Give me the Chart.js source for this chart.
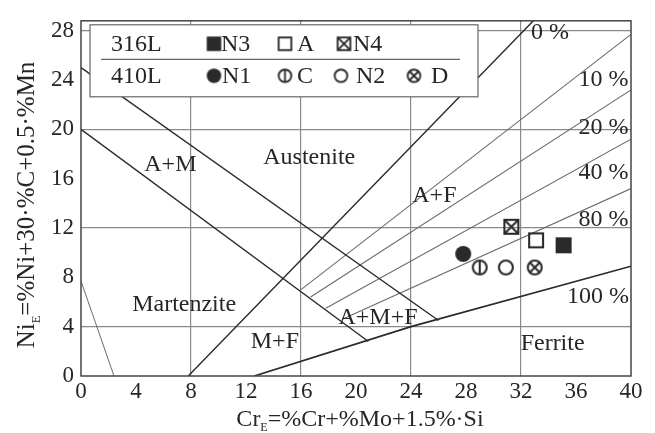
<!DOCTYPE html>
<html>
<head>
<meta charset="utf-8">
<title>Schaeffler diagram – 316L / 410L deposits</title>
<script src="https://cdn.jsdelivr.net/npm/chart.js@4.4.1/dist/chart.umd.min.js"></script>
<style>
  html, body { margin: 0; padding: 0; background: #fff; }
  #wrap { width: 655px; height: 433px; }
</style>
</head>
<body>
<div id="wrap"><canvas id="chart" width="655" height="433"></canvas></div>
<script>
const FONT = '"Liberation Serif", "Times New Roman", Times, serif';
const INK = '#262626';

// Phase boundaries of the Schaeffler diagram, [CrE, NiE] vertices
const martensiteEdge = [[0, 7.7], [2.4, 0]];
const amLowerEdge    = [[0, 20], [20.9, 2.8]];
const amUpperEdge    = [[0, 25], [26.0, 4.5]];
const ferrite0   = [[7.8, 0], [32.9, 28.8]];
const ferrite10  = [[16.0, 7.0], [40, 27.7]];
const ferrite20  = [[16.7, 6.4], [40, 23.2]];
const ferrite40  = [[17.8, 5.5], [40, 19.2]];
const ferrite80  = [[19.0, 4.6], [40, 15.2]];
const ferrite100 = [[12.6, 0], [24, 4.0], [40, 8.9]];

// Measured deposits
const steels = ['316L', '410L'];
const names316 = ['N3', 'A', 'N4'];
const crE316   = [35.1, 33.1, 31.3];
const niE316   = [10.6, 11.0, 12.1];
const names410 = ['N1', 'C', 'N2', 'D'];
const crE410   = [27.8, 29.0, 30.9, 33.0];
const niE410   = [9.9, 8.8, 8.8, 8.8];

// Axis ticks
const xTicks = [0, 4, 8, 12, 16, 20, 24, 28, 32, 36, 40];
const yTicks = [0, 4, 8, 12, 16, 20, 24, 28];
const xGridValues = [8, 16, 24, 32];
const yGridValues = [4, 12, 20, 28];

// Region names and iso-ferrite labels, anchored in diagram coordinates
const regionNames = ['A+M', 'Austenite', 'A+F', 'Martenzite', 'M+F', 'A+M+F', 'Ferrite'];
const regionCr    = [6.5, 16.6, 25.7, 7.5, 14.1, 21.6, 34.3];
const regionNi    = [17.1, 17.7, 14.6, 5.8, 2.75, 4.7, 2.65];
const ferriteNames = ['0 %', '10 %', '20 %', '40 %', '80 %', '100 %'];
const ferriteCr    = [34.1, 38.0, 38.0, 38.0, 38.0, 37.6];
const ferriteNi    = [27.85, 24.05, 20.1, 16.5, 12.7, 6.4];

// Marker glyph for every sample
const symbolKind = {
  N3: 'filledSquare', A: 'openSquare', N4: 'crossSquare',
  N1: 'filledCircle', C: 'barCircle', N2: 'openCircle', D: 'crossCircle'
};

function makeSymbol(kind, outer) {
  const s = Math.ceil(outer) + 4;
  const cv = document.createElement('canvas');
  cv.width = s; cv.height = s;
  const g = cv.getContext('2d');
  const c = s / 2;
  const lw = outer * 0.13;
  g.strokeStyle = '#2a2a2a';
  g.fillStyle = '#2a2a2a';
  g.lineWidth = lw;
  const h = outer / 2;
  if (kind.endsWith('Square')) {
    if (kind === 'filledSquare') {
      g.fillRect(c - h, c - h, outer, outer);
    } else {
      const k = h - lw / 2;
      g.strokeRect(c - k, c - k, 2 * k, 2 * k);
      if (kind === 'crossSquare') {
        g.beginPath();
        g.moveTo(c - k, c - k); g.lineTo(c + k, c + k);
        g.moveTo(c + k, c - k); g.lineTo(c - k, c + k);
        g.stroke();
      }
    }
  } else {
    const r = h - lw / 2;
    g.beginPath();
    g.arc(c, c, kind === 'filledCircle' ? h : r, 0, Math.PI * 2);
    if (kind === 'filledCircle') g.fill(); else g.stroke();
    if (kind === 'barCircle') {
      g.beginPath(); g.moveTo(c, c - r); g.lineTo(c, c + r); g.stroke();
    }
    if (kind === 'crossCircle') {
      const d = r * 0.68;
      g.beginPath();
      g.moveTo(c - d, c - d); g.lineTo(c + d, c + d);
      g.moveTo(c + d, c - d); g.lineTo(c - d, c + d);
      g.stroke();
    }
  }
  return cv;
}

const plotSymbols = {}, legendSymbols = {};
Object.keys(symbolKind).forEach(n => {
  plotSymbols[n] = makeSymbol(symbolKind[n], 16);
  legendSymbols[n] = makeSymbol(symbolKind[n], 14.5);
});

const toPts = arr => arr.map(([x, y]) => ({ x, y }));
function boundary(label, pts, color, width) {
  return {
    label, data: toPts(pts), showLine: true, borderColor: color, borderWidth: width,
    pointRadius: 0, pointHoverRadius: 0, fill: false, tension: 0, order: 2
  };
}
function sample(name, x, y) {
  return {
    label: name, data: [{ x, y }], showLine: false,
    pointStyle: plotSymbols[name], pointRadius: 8, pointHoverRadius: 8, order: 1
  };
}

const DARK = '#2a2a2a', THIN = '#6a6a6a';
const datasets = [
  boundary('M edge', martensiteEdge, THIN, 1),
  boundary('A+M lower', amLowerEdge, DARK, 1.4),
  boundary('A+M upper', amUpperEdge, DARK, 1.4),
  boundary('0 %', ferrite0, DARK, 1.4),
  boundary('10 %', ferrite10, THIN, 1.1),
  boundary('20 %', ferrite20, THIN, 1.1),
  boundary('40 %', ferrite40, THIN, 1.1),
  boundary('80 %', ferrite80, THIN, 1.1),
  boundary('100 %', ferrite100, DARK, 1.7),
];
names316.forEach((n, i) => datasets.push(sample(n, crE316[i], niE316[i])));
names410.forEach((n, i) => datasets.push(sample(n, crE410[i], niE410[i])));

// Text with a subscript run, centred on (cx, cy)
function subTextWidth(ctx, parts, size) {
  let w = 0;
  parts.forEach(p => {
    ctx.font = (p.sub ? size * 0.5 : size) + 'px ' + FONT;
    w += ctx.measureText(p.t).width;
  });
  return w;
}
function drawSubText(ctx, parts, cx, cy, size) {
  const w = subTextWidth(ctx, parts, size);
  let x = cx - w / 2;
  ctx.textBaseline = 'alphabetic';
  ctx.textAlign = 'left';
  const base = cy + size * 0.33;
  parts.forEach(p => {
    ctx.font = (p.sub ? size * 0.5 : size) + 'px ' + FONT;
    ctx.fillText(p.t, x, p.sub ? base + size * 0.22 : base);
    x += ctx.measureText(p.t).width;
  });
}

const diagramDecor = {
  id: 'diagramDecor',
  afterDatasetsDraw(chart) {
    const { ctx, chartArea: a, scales: { x, y } } = chart;
    ctx.save();
    // plot frame
    ctx.strokeStyle = '#444';
    ctx.lineWidth = 1.5;
    ctx.strokeRect(a.left, a.top, a.right - a.left, a.bottom - a.top);

    // region and iso-ferrite labels
    ctx.fillStyle = INK;
    ctx.font = '24px ' + FONT;
    ctx.textAlign = 'center';
    ctx.textBaseline = 'middle';
    regionNames.forEach((t, i) => ctx.fillText(t, x.getPixelForValue(regionCr[i]), y.getPixelForValue(regionNi[i])));
    ferriteNames.forEach((t, i) => ctx.fillText(t, x.getPixelForValue(ferriteCr[i]), y.getPixelForValue(ferriteNi[i])));

    // grouped legend
    const bx = a.left + 9, by = a.top + 4, bw = 388, bh = 72;
    ctx.fillStyle = '#fff';
    ctx.fillRect(bx, by, bw, bh);
    ctx.strokeStyle = '#666';
    ctx.lineWidth = 1.2;
    ctx.strokeRect(bx, by, bw, bh);
    ctx.beginPath();
    ctx.moveTo(bx + 11, by + 34.5);
    ctx.lineTo(bx + 370, by + 34.5);
    ctx.stroke();

    const rows = [
      { steel: steels[0], names: names316, cy: by + 19, marks: [124, 195, 254], texts: [131, 207, 263] },
      { steel: steels[1], names: names410, cy: by + 51, marks: [124, 195, 251, 324], texts: [132, 207, 266, 341] },
    ];
    ctx.fillStyle = INK;
    ctx.font = '24px ' + FONT;
    ctx.textBaseline = 'middle';
    ctx.textAlign = 'left';
    rows.forEach(r => {
      ctx.fillText(r.steel, bx + 21, r.cy + 1);
      r.names.forEach((n, i) => {
        const img = legendSymbols[n];
        ctx.drawImage(img, bx + r.marks[i] - img.width / 2, r.cy - img.height / 2);
        ctx.fillText(n, bx + r.texts[i], r.cy + 1);
      });
    });

    // axis titles
    drawSubText(ctx, [{ t: 'Cr' }, { t: 'E', sub: true }, { t: '=%Cr+%Mo+1.5%\u00B7Si' }],
      (a.left + a.right) / 2 + 4, 418, 24);
    ctx.translate(26, 205);
    ctx.rotate(-Math.PI / 2);
    drawSubText(ctx, [{ t: 'Ni' }, { t: 'E', sub: true }, { t: '=%Ni+30\u00B7%C+0.5\u00B7%Mn' }], 0, 0, 25);
    ctx.restore();
  }
};

new Chart(document.getElementById('chart'), {
  type: 'scatter',
  data: { datasets },
  options: {
    responsive: false,
    animation: false,
    events: [],
    layout: { padding: { top: 10, right: 24, left: 0, bottom: 0 } },
    plugins: { legend: { display: false }, tooltip: { enabled: false } },
    scales: {
      x: {
        type: 'linear', min: 0, max: 40,
        ticks: { color: INK, font: { family: FONT, size: 23 }, padding: 2, maxRotation: 0, autoSkip: false },
        grid: {
          color: c => (c.tick && xGridValues.includes(c.tick.value)) ? '#8a8a8a' : 'rgba(0,0,0,0)',
          lineWidth: 1.2, drawTicks: false
        },
        border: { display: false },
        afterBuildTicks: s => { s.ticks = xTicks.map(v => ({ value: v })); },
        afterFit: s => { s.height = 57; }
      },
      y: {
        type: 'linear', min: 0, max: 28.8,
        ticks: { color: INK, font: { family: FONT, size: 23 }, padding: 7, autoSkip: false },
        grid: {
          color: c => (c.tick && yGridValues.includes(c.tick.value)) ? '#8a8a8a' : 'rgba(0,0,0,0)',
          lineWidth: 1.2, drawTicks: false
        },
        border: { display: false },
        afterBuildTicks: s => { s.ticks = yTicks.map(v => ({ value: v })); },
        afterFit: s => { s.width = 81; }
      }
    }
  },
  plugins: [diagramDecor]
});
</script>
</body>
</html>
